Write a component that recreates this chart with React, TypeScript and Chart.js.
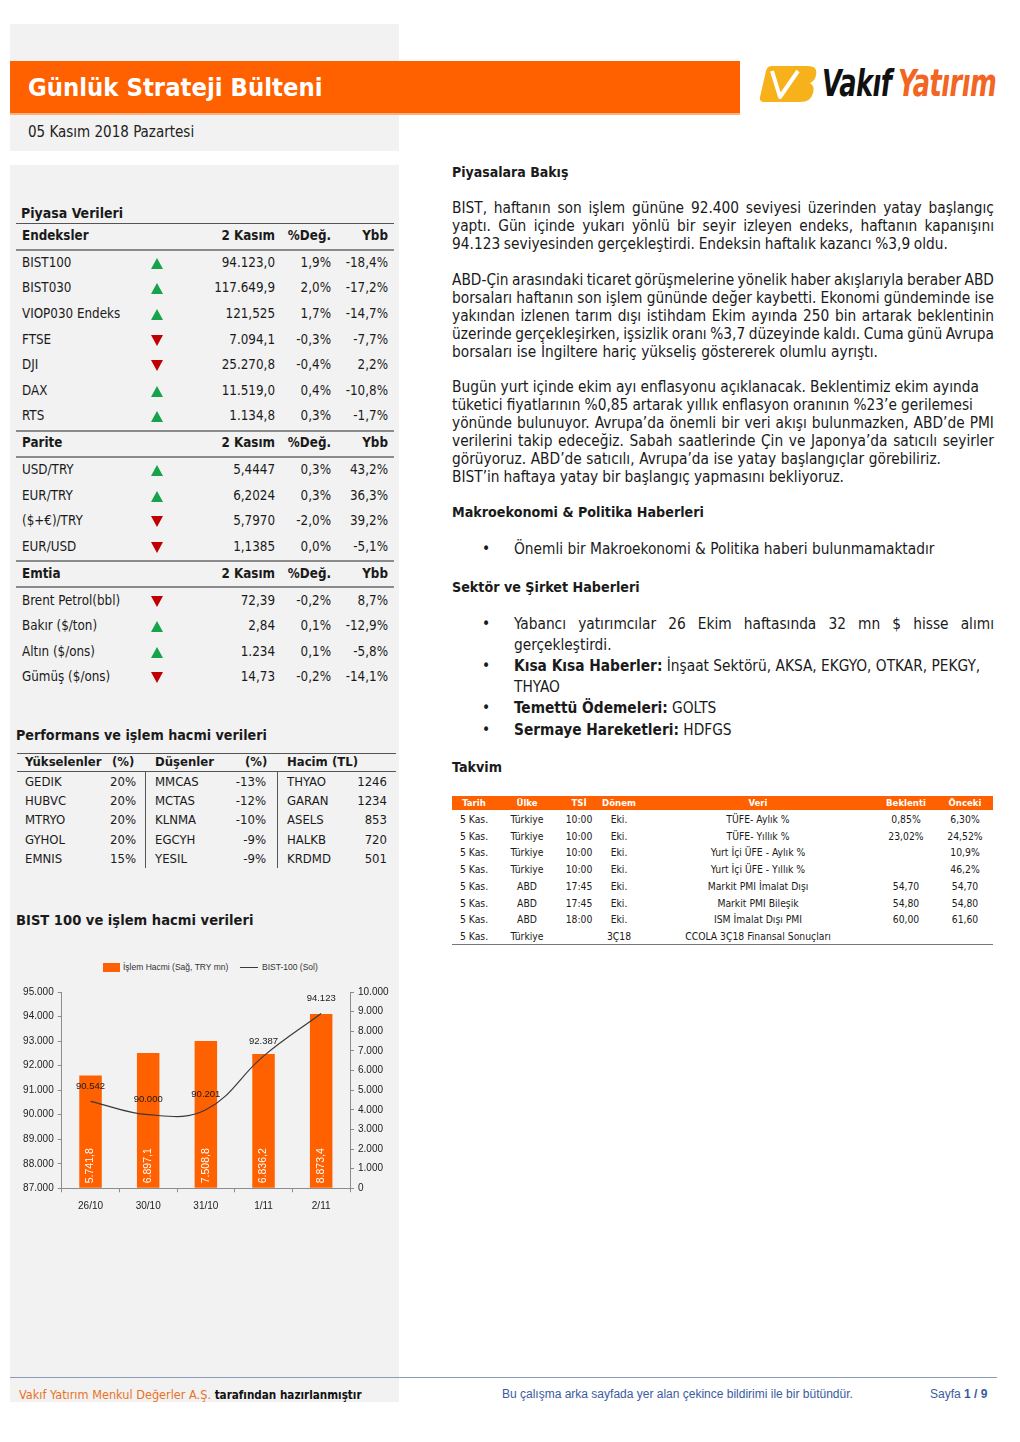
import React, { useEffect, useRef } from "react";
import { Chart, registerables } from "chart.js";

Chart.register(...registerables);

// ---------------- chart data ----------------
const categories = ["26/10", "30/10", "31/10", "1/11", "2/11"];
const volumeValues = [5741.8, 6897.1, 7508.8, 6836.2, 8873.4];
const bistValues = [90542, 90000, 90201, 92387, 94123];
const volumeLabel = "İşlem Hacmi (Sağ, TRY mn)";
const bistLabel = "BIST-100 (Sol)";
const leftMin = 87000;
const leftMax = 95000;
const rightMin = 0;
const rightMax = 10000;
const tickStep = 1000;

// ---------------- table data ----------------
const indexNames = ["BIST100", "BIST030", "VIOP030 Endeks", "FTSE", "DJI", "DAX", "RTS"];
const indexValues = ["94.123,0", "117.649,9", "121,525", "7.094,1", "25.270,8", "11.519,0", "1.134,8"];
const indexChg = ["1,9%", "2,0%", "1,7%", "-0,3%", "-0,4%", "0,4%", "0,3%"];
const indexYtd = ["-18,4%", "-17,2%", "-14,7%", "-7,7%", "2,2%", "-10,8%", "-1,7%"];
const indexUp = [true, true, true, false, false, true, true];

const fxNames = ["USD/TRY", "EUR/TRY", "($+€)/TRY", "EUR/USD"];
const fxValues = ["5,4447", "6,2024", "5,7970", "1,1385"];
const fxChg = ["0,3%", "0,3%", "-2,0%", "0,0%"];
const fxYtd = ["43,2%", "36,3%", "39,2%", "-5,1%"];
const fxUp = [true, true, false, false];

const cmdNames = ["Brent Petrol(bbl)", "Bakır ($/ton)", "Altın ($/ons)", "Gümüş ($/ons)"];
const cmdValues = ["72,39", "2,84", "1.234", "14,73"];
const cmdChg = ["-0,2%", "0,1%", "0,1%", "-0,2%"];
const cmdYtd = ["8,7%", "-12,9%", "-5,8%", "-14,1%"];
const cmdUp = [false, true, true, false];

const riseNames = ["GEDIK", "HUBVC", "MTRYO", "GYHOL", "EMNIS"];
const risePct = ["20%", "20%", "20%", "20%", "15%"];
const fallNames = ["MMCAS", "MCTAS", "KLNMA", "EGCYH", "YESIL"];
const fallPct = ["-13%", "-12%", "-10%", "-9%", "-9%"];
const volNames = ["THYAO", "GARAN", "ASELS", "HALKB", "KRDMD"];
const volValues = ["1246", "1234", "853", "720", "501"];

const calDate = ["5 Kas.", "5 Kas.", "5 Kas.", "5 Kas.", "5 Kas.", "5 Kas.", "5 Kas.", "5 Kas."];
const calCountry = ["Türkiye", "Türkiye", "Türkiye", "Türkiye", "ABD", "ABD", "ABD", "Türkiye"];
const calTime = ["10:00", "10:00", "10:00", "10:00", "17:45", "17:45", "18:00", ""];
const calPeriod = ["Eki.", "Eki.", "Eki.", "Eki.", "Eki.", "Eki.", "Eki.", "3Ç18"];
const calData = [
  "TÜFE- Aylık %",
  "TÜFE- Yıllık %",
  "Yurt İçi ÜFE - Aylık %",
  "Yurt İçi ÜFE - Yıllık %",
  "Markit PMI İmalat Dışı",
  "Markit PMI Bileşik",
  "ISM İmalat Dışı PMI",
  "CCOLA 3Ç18 Finansal Sonuçları",
];
const calExpected = ["0,85%", "23,02%", "", "", "54,70", "54,80", "60,00", ""];
const calPrevious = ["6,30%", "24,52%", "10,9%", "46,2%", "54,70", "54,80", "61,60", ""];

// ---------------- styles ----------------
const FONT = "'DejaVu Sans Condensed', 'Liberation Sans Narrow', 'Open Sans', sans-serif";
const CHART_FONT = "'Liberation Sans', Arial, sans-serif";
const ORANGE = "#ff6000";
const GRAY_BG = "#f2f2f2";
const TEXT = "#1a1a1a";
const GREEN = "#17a34a";
const RED = "#c00000";
const BODY = 15.3;

function fmtInt(v: number): string {
  return Math.round(v).toString().replace(/\B(?=(\d{3})+(?!\d))/g, ".");
}
function fmtDec1(v: number): string {
  const s = v.toFixed(1);
  const [i, d] = s.split(".");
  return i.replace(/\B(?=(\d{3})+(?!\d))/g, ".") + "," + d;
}

type TxtProps = {
  x: number;
  y: number;
  size?: number;
  bold?: boolean;
  color?: string;
  align?: "left" | "right" | "center";
  font?: string;
  children: React.ReactNode;
};

function Txt({ x, y, size = 13.3, bold = false, color = TEXT, align = "left", font = FONT, children }: TxtProps) {
  const h = Math.round(size * 1.5);
  const style: React.CSSProperties = {
    position: "absolute",
    top: y - h / 2,
    height: h,
    lineHeight: h + "px",
    fontSize: size,
    fontWeight: bold ? 700 : 400,
    color,
    fontFamily: font,
    whiteSpace: "nowrap",
  };
  if (align === "right") {
    style.left = x - 400;
    style.width = 400;
    style.textAlign = "right";
  } else if (align === "center") {
    style.left = x - 200;
    style.width = 400;
    style.textAlign = "center";
  } else {
    style.left = x;
  }
  return <div style={style}>{children}</div>;
}

function JLine({ x, x2, y, text, size = BODY }: { x: number; x2: number; y: number; text: string; size?: number }) {
  const h = Math.round(size * 1.4);
  const words = text.split(" ");
  return (
    <div
      style={{
        position: "absolute",
        left: x,
        top: y - h / 2,
        width: x2 - x,
        height: h,
        lineHeight: h + "px",
        fontSize: size,
        fontFamily: FONT,
        color: TEXT,
        display: "flex",
        justifyContent: "space-between",
        whiteSpace: "nowrap",
      }}
    >
      {words.map((w, i) => (
        <span key={i}>{w}</span>
      ))}
    </div>
  );
}

function Rect({ x, y, w, h, color }: { x: number; y: number; w: number; h: number; color: string }) {
  return <div style={{ position: "absolute", left: x, top: y, width: w, height: h, background: color }} />;
}

function Arrow({ x, y, up }: { x: number; y: number; up: boolean }) {
  const style: React.CSSProperties = {
    position: "absolute",
    left: x - 6.5,
    top: y - 5,
    width: 0,
    height: 0,
    borderLeft: "6.5px solid transparent",
    borderRight: "6.5px solid transparent",
  };
  if (up) style.borderBottom = `11px solid ${GREEN}`;
  else style.borderTop = `11px solid ${RED}`;
  return <div style={style} />;
}

// ---------------- chart ----------------
const labelPlugin = {
  id: "valueLabels",
  afterDatasetsDraw(chart: any) {
    const ctx = chart.ctx;
    const yBottom = chart.chartArea.bottom;
    const barMeta = chart.getDatasetMeta(0);
    ctx.save();
    ctx.fillStyle = "#ffffff";
    ctx.font = `10.5px ${CHART_FONT}`;
    ctx.textAlign = "left";
    ctx.textBaseline = "middle";
    barMeta.data.forEach((bar: any, i: number) => {
      ctx.save();
      ctx.translate(bar.x, yBottom - 5);
      ctx.rotate(-Math.PI / 2);
      ctx.fillText(fmtDec1(volumeValues[i]), 0, 0);
      ctx.restore();
    });
    const lineMeta = chart.getDatasetMeta(1);
    ctx.fillStyle = "#1a1a1a";
    ctx.font = `9.5px ${CHART_FONT}`;
    ctx.textAlign = "center";
    lineMeta.data.forEach((pt: any, i: number) => {
      ctx.fillText(fmtInt(bistValues[i]), pt.x, pt.y - 15);
    });
    ctx.restore();
  },
};

function BistChart() {
  const ref = useRef<HTMLCanvasElement>(null);
  useEffect(() => {
    if (!ref.current) return;
    const axisColor = "#8c8c8c";
    const tickFont = { size: 10, family: CHART_FONT };
    const chart = new Chart(ref.current, {
      type: "bar",
      data: {
        labels: categories,
        datasets: [
          {
            type: "bar",
            label: volumeLabel,
            data: volumeValues,
            backgroundColor: ORANGE,
            yAxisID: "y1",
            barPercentage: 0.39,
            categoryPercentage: 1,
            order: 2,
          } as any,
          {
            type: "line",
            label: bistLabel,
            data: bistValues,
            borderColor: "#3a3a3a",
            borderWidth: 1.2,
            pointRadius: 0,
            tension: 0.4,
            yAxisID: "y",
            order: 1,
          } as any,
        ],
      },
      options: {
        responsive: false,
        animation: false,
        layout: { padding: { top: 12, left: 0, right: 0, bottom: 0 } },
        plugins: { legend: { display: false }, tooltip: { enabled: false } },
        scales: {
          x: {
            grid: { drawOnChartArea: false, tickLength: 4, color: axisColor, offset: true },
            border: { color: axisColor },
            ticks: { font: tickFont, color: "#222", padding: 8 },
            afterFit: (s: any) => {
              s.height = 31.7;
            },
          },
          y: {
            position: "left",
            min: leftMin,
            max: leftMax,
            grid: { drawOnChartArea: false, tickLength: 4, color: axisColor },
            border: { color: axisColor },
            ticks: {
              stepSize: tickStep,
              font: tickFont,
              color: "#222",
              padding: 4,
              callback: (v: any) => fmtInt(Number(v)),
            },
            afterFit: (s: any) => {
              s.width = 51.7;
            },
          },
          y1: {
            position: "right",
            min: rightMin,
            max: rightMax,
            grid: { drawOnChartArea: false, tickLength: 4, color: axisColor },
            border: { color: axisColor },
            ticks: {
              stepSize: tickStep,
              font: tickFont,
              color: "#222",
              padding: 4,
              callback: (v: any) => fmtInt(Number(v)),
            },
            afterFit: (s: any) => {
              s.width = 50;
            },
          },
        },
      } as any,
      plugins: [labelPlugin],
    });
    return () => chart.destroy();
  }, []);
  return (
    <canvas
      ref={ref}
      width={390}
      height={240}
      style={{ position: "absolute", left: 10, top: 980, width: 390, height: 240 }}
    />
  );
}

// ---------------- page sections ----------------
function MarketTable() {
  const colName = 22;
  const colArrow = 157;
  const colVal = 275;
  const colChg = 331;
  const colYtd = 388;
  const header = (y: number, title: string) => (
    <>
      <Txt x={colName} y={y} bold>{title}</Txt>
      <Txt x={colVal} y={y} bold align="right">2 Kasım</Txt>
      <Txt x={colChg} y={y} bold align="right">%Değ.</Txt>
      <Txt x={colYtd} y={y} bold align="right">Ybb</Txt>
    </>
  );
  const rows = (ys: number, names: string[], vals: string[], chg: string[], ytd: string[], up: boolean[]) =>
    names.map((n, i) => {
      const y = ys + i * 25.6;
      return (
        <React.Fragment key={n}>
          <Txt x={colName} y={y}>{n}</Txt>
          <Arrow x={colArrow} y={y} up={up[i]} />
          <Txt x={colVal} y={y} align="right">{vals[i]}</Txt>
          <Txt x={colChg} y={y} align="right">{chg[i]}</Txt>
          <Txt x={colYtd} y={y} align="right">{ytd[i]}</Txt>
        </React.Fragment>
      );
    });
  return (
    <>
      <Txt x={21} y={213} size={14} bold>Piyasa Verileri</Txt>
      <Rect x={16} y={222.5} w={378} h={1.2} color="#555" />
      {header(236, "Endeksler")}
      <Rect x={16} y={249} w={378} h={2} color="#8a8a8a" />
      {rows(262.7, indexNames, indexValues, indexChg, indexYtd, indexUp)}
      <Rect x={16} y={430} w={378} h={2} color="#8a8a8a" />
      {header(443, "Parite")}
      <Rect x={16} y={456} w={378} h={2} color="#8a8a8a" />
      {rows(470, fxNames, fxValues, fxChg, fxYtd, fxUp)}
      <Rect x={16} y={560} w={378} h={2} color="#8a8a8a" />
      {header(574, "Emtia")}
      <Rect x={16} y={586} w={378} h={2} color="#8a8a8a" />
      {rows(600.5, cmdNames, cmdValues, cmdChg, cmdYtd, cmdUp)}
    </>
  );
}

function PerfTable() {
  const y0 = 781.5;
  const step = 19.4;
  return (
    <>
      <Txt x={16} y={735} size={14.2} bold>Performans ve işlem hacmi verileri</Txt>
      <Rect x={17} y={753} w={379} h={1.2} color="#555" />
      <Txt x={25} y={762} bold size={13}>Yükselenler</Txt>
      <Txt x={112} y={762} bold size={13}>(%)</Txt>
      <Txt x={155} y={762} bold size={13}>Düşenler</Txt>
      <Txt x={245} y={762} bold size={13}>(%)</Txt>
      <Txt x={287} y={762} bold size={13}>Hacim</Txt>
      <Txt x={332} y={762} bold size={13}>(TL)</Txt>
      <Rect x={17} y={771} w={379} h={1.2} color="#555" />
      <Rect x={145} y={772} w={1.2} h={96} color="#555" />
      <Rect x={276.5} y={772} w={1.2} h={96} color="#555" />
      {riseNames.map((n, i) => {
        const y = y0 + i * step;
        return (
          <React.Fragment key={n}>
            <Txt x={25} y={y} size={13}>{n}</Txt>
            <Txt x={136} y={y} size={13} align="right">{risePct[i]}</Txt>
            <Txt x={155} y={y} size={13}>{fallNames[i]}</Txt>
            <Txt x={266} y={y} size={13} align="right">{fallPct[i]}</Txt>
            <Txt x={287} y={y} size={13}>{volNames[i]}</Txt>
            <Txt x={387} y={y} size={13} align="right">{volValues[i]}</Txt>
          </React.Fragment>
        );
      })}
      <Txt x={16} y={920} size={14.6} bold>BIST 100 ve işlem hacmi verileri</Txt>
    </>
  );
}

function ChartLegend() {
  return (
    <>
      <Rect x={103} y={963} w={17} h={9} color={ORANGE} />
      <Txt x={123} y={967.5} size={8.5} font={CHART_FONT} color="#333">{volumeLabel}</Txt>
      <Rect x={240} y={967} w={18} h={1.2} color="#3a3a3a" />
      <Txt x={262} y={967.5} size={8.5} font={CHART_FONT} color="#333">{bistLabel}</Txt>
    </>
  );
}

function RightText() {
  const L = 452;
  const R = 994;
  return (
    <>
      <Txt x={L} y={172} size={14} bold>Piyasalara Bakış</Txt>

      <JLine x={L} x2={R} y={208} text="BIST, haftanın son işlem gününe 92.400 seviyesi üzerinden yatay başlangıç" />
      <JLine x={L} x2={R} y={226} text="yaptı. Gün içinde yukarı yönlü bir seyir izleyen endeks, haftanın kapanışını" />
      <JLine x={L} x2={948} y={244} text="94.123 seviyesinden gerçekleştirdi. Endeksin haftalık kazancı %3,9 oldu." />

      <JLine x={L} x2={R} y={280} text="ABD-Çin arasındaki ticaret görüşmelerine yönelik haber akışlarıyla beraber ABD" />
      <JLine x={L} x2={R} y={298} text="borsaları haftanın son işlem gününde değer kaybetti. Ekonomi gündeminde ise" />
      <JLine x={L} x2={R} y={316} text="yakından izlenen tarım dışı istihdam Ekim ayında 250 bin artarak beklentinin" />
      <JLine x={L} x2={R} y={334} text="üzerinde gerçekleşirken, işsizlik oranı %3,7 düzeyinde kaldı. Cuma günü Avrupa" />
      <JLine x={L} x2={878} y={352} text="borsaları ise İngiltere hariç yükseliş göstererek olumlu ayrıştı." />

      <JLine x={L} x2={979} y={387} text="Bugün yurt içinde ekim ayı enflasyonu açıklanacak. Beklentimiz ekim ayında" />
      <JLine x={L} x2={973} y={405} text="tüketici fiyatlarının %0,85 artarak yıllık enflasyon oranının %23’e gerilemesi" />
      <JLine x={L} x2={R} y={423} text="yönünde bulunuyor. Avrupa’da önemli bir veri akışı bulunmazken, ABD’de PMI" />
      <JLine x={L} x2={R} y={441} text="verilerini takip edeceğiz. Sabah saatlerinde Çin ve Japonya’da satıcılı seyirler" />
      <JLine x={L} x2={941} y={459} text="görüyoruz. ABD’de satıcılı, Avrupa’da ise yatay başlangıçlar görebiliriz." />
      <JLine x={L} x2={844} y={477} text="BIST’in haftaya yatay bir başlangıç yapmasını bekliyoruz." />

      <Txt x={L} y={512} size={14.2} bold>Makroekonomi &amp; Politika Haberleri</Txt>
      <Txt x={482} y={549} size={BODY}>•</Txt>
      <Txt x={514} y={549} size={BODY}>Önemli bir Makroekonomi &amp; Politika haberi bulunmamaktadır</Txt>

      <Txt x={L} y={587} size={14.2} bold>Sektör ve Şirket Haberleri</Txt>
      <Txt x={482} y={624} size={BODY}>•</Txt>
      <JLine x={514} x2={R} y={624} text="Yabancı yatırımcılar 26 Ekim haftasında 32 mn $ hisse alımı" />
      <Txt x={514} y={645} size={BODY}>gerçekleştirdi.</Txt>
      <Txt x={482} y={666} size={BODY}>•</Txt>
      <Txt x={514} y={666} size={BODY}>
        <b>Kısa Kısa Haberler:</b> İnşaat Sektörü, AKSA, EKGYO, OTKAR, PEKGY,
      </Txt>
      <Txt x={514} y={687} size={BODY}>THYAO</Txt>
      <Txt x={482} y={708} size={BODY}>•</Txt>
      <Txt x={514} y={708} size={BODY}>
        <b>Temettü Ödemeleri:</b> GOLTS
      </Txt>
      <Txt x={482} y={730} size={BODY}>•</Txt>
      <Txt x={514} y={730} size={BODY}>
        <b>Sermaye Hareketleri:</b> HDFGS
      </Txt>

      <Txt x={L} y={767} size={14.2} bold>Takvim</Txt>
    </>
  );
}

function Calendar() {
  const cols = [474, 527, 579, 619, 758, 906, 965];
  const heads = ["Tarih", "Ülke", "TSİ", "Dönem", "Veri", "Beklenti", "Önceki"];
  const y0 = 819.5;
  const step = 16.7;
  return (
    <>
      <Rect x={452} y={796} w={541} h={14} color={ORANGE} />
      {heads.map((h, i) => (
        <Txt key={h} x={cols[i]} y={803} size={9.5} bold color="#fff" align="center">
          {h}
        </Txt>
      ))}
      {calDate.map((d, i) => {
        const y = y0 + i * step;
        const cells = [d, calCountry[i], calTime[i], calPeriod[i], calData[i], calExpected[i], calPrevious[i]];
        return (
          <React.Fragment key={i}>
            {cells.map((c, j) => (
              <Txt key={j} x={cols[j]} y={y} size={10.3} align="center">
                {c}
              </Txt>
            ))}
          </React.Fragment>
        );
      })}
      <Rect x={452} y={943.5} w={541} h={1.5} color="#777" />
    </>
  );
}

function LogoWord({ x, text, color, weight }: { x: number; text: string; color: string; weight: number }) {
  return (
    <div
      style={{
        position: "absolute",
        left: x,
        top: 64,
        height: 40,
        lineHeight: "40px",
        fontFamily: "'DejaVu Sans Condensed', 'Liberation Sans Narrow', sans-serif",
        fontSize: 28.5,
        fontWeight: weight,
        fontStyle: "italic",
        color,
        whiteSpace: "nowrap",
        letterSpacing: -0.5,
        transform: "scaleY(1.32)",
        transformOrigin: "50% 50%",
      }}
    >
      {text}
    </div>
  );
}

function Logo() {
  return (
    <>
      <svg width={64} height={44} viewBox="0 0 64 44" style={{ position: "absolute", left: 756, top: 61 }}>
        <path
          d="M16 5 H52 Q62 5 60 14 Q59 20 54 22 Q59 25 57 32 Q55 41 44 41 H8 Q3 41 4 36 L10 10 Q11 5 16 5 Z"
          fill="#f7b21b"
        />
        <path d="M16 10 L24 36 L42 10" fill="none" stroke="#ffffff" strokeWidth={4} strokeLinejoin="round" />
      </svg>
      <LogoWord x={822} text="Vakıf" color="#111" weight={700} />
      <LogoWord x={898} text="Yatırım" color="#f26522" weight={600} />
    </>
  );
}

function Footer() {
  return (
    <>
      <Rect x={10} y={1377} w={389} h={25} color={GRAY_BG} />
      <Rect x={10} y={1376.5} w={987} h={1.3} color="#8a9bb8" />
      <Txt x={19} y={1394} size={12.6}>
        <span style={{ color: "#e8731f" }}>Vakıf Yatırım Menkul Değerler A.Ş.</span>{" "}
        <span style={{ fontWeight: 700, color: "#111", fontSize: 11.6 }}>tarafından hazırlanmıştır</span>
      </Txt>
      <Txt x={502} y={1394} size={12} font={CHART_FONT} color="#3a5ba0">
        Bu çalışma arka sayfada yer alan çekince bildirimi ile bir bütündür.
      </Txt>
      <Txt x={930} y={1394} size={12} font={CHART_FONT} color="#3a5ba0">
        Sayfa <b>1 / 9</b>
      </Txt>
    </>
  );
}

export default function App() {
  return (
    <div
      style={{
        position: "absolute",
        left: 0,
        top: 0,
        width: 1020,
        height: 1442,
        background: "#ffffff",
        overflow: "hidden",
        fontFamily: FONT,
      }}
    >
      <Rect x={10} y={24} w={389} h={127} color={GRAY_BG} />
      <Rect x={10} y={165} w={389} h={1212} color={GRAY_BG} />
      <Rect x={10} y={61} w={730} h={52} color={ORANGE} />
      <Rect x={10} y={113} w={730} h={1.5} color="#ffb080" />
      <Txt x={28} y={87} size={25.4} bold color="#ffffff">Günlük Strateji Bülteni</Txt>
      <Logo />
      <Txt x={28} y={132} size={15} color="#222">05 Kasım 2018 Pazartesi</Txt>

      <MarketTable />
      <PerfTable />
      <ChartLegend />
      <BistChart />

      <RightText />
      <Calendar />
      <Footer />
    </div>
  );
}
